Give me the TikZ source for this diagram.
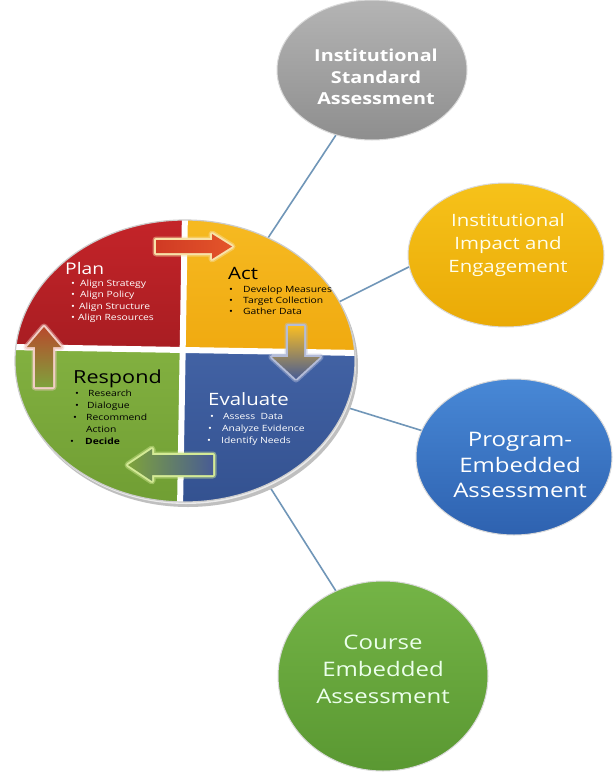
\documentclass[tikz,border=0pt]{standalone}
\usepackage{fontspec}
\setmainfont{Open Sans}
\newfontfamily\wf[FakeStretch=1.2]{Open Sans}
\usetikzlibrary{shapes.geometric,shadings}
\definecolor{qred}{HTML}{C8252A}
\definecolor{qredd}{HTML}{A81D22}
\definecolor{qorg}{HTML}{F7BC24}
\definecolor{qorgd}{HTML}{F0AA10}
\definecolor{qgrn}{HTML}{82B040}
\definecolor{qgrnd}{HTML}{6E9C32}
\definecolor{qblu}{HTML}{4262A4}
\definecolor{qblud}{HTML}{32508E}
\definecolor{conn}{HTML}{7096B8}
\definecolor{sgray}{HTML}{B4B4B4}
\definecolor{sgrayd}{HTML}{8E8E8E}
\definecolor{syel}{HTML}{F6C21A}
\definecolor{syeld}{HTML}{EAAA06}
\definecolor{sblu}{HTML}{4888D6}
\definecolor{sblud}{HTML}{2E62B0}
\definecolor{sgrn}{HTML}{74B446}
\definecolor{sgrnd}{HTML}{5A9832}
\definecolor{arred}{HTML}{D03A24}
\definecolor{arorg}{HTML}{E4562A}
\definecolor{argrn}{HTML}{7EA23C}
\definecolor{arbrn}{HTML}{B84A2C}
\definecolor{arblu}{HTML}{485C94}
\definecolor{glowy}{HTML}{F8E2A8}
\definecolor{glowp}{HTML}{F2CEC6}
\definecolor{glowb}{HTML}{B4BCD8}
\definecolor{glowg}{HTML}{D4EA96}
\tikzset{
  sat/.style={ellipse, inner sep=0pt, draw=white!85!black, line width=1pt},
  conline/.style={draw=conn, line width=1.6pt},
  head/.style={font=\wf\fontsize{17}{20}\selectfont, anchor=base west, inner sep=0pt},
  bl/.style={font=\wf\fontsize{8.6}{10}\selectfont, anchor=base west, inner sep=0pt},
  sattext/.style={align=center, inner sep=0pt, text=white},
  glowout/.style={line width=7pt, line join=round, opacity=0.45},
  glowin/.style={line width=4pt, line join=round},
}
\begin{document}
\begin{tikzpicture}[x=1pt,y=-1pt]
\useasboundingbox (0,0) rectangle (613,776);
\fill[white] (0,0) rectangle (613,776);

\node[ellipse, minimum width=340, minimum height=282, inner sep=0pt] (main) at (185,361) {};
\node[sat, minimum width=190, minimum height=140, shade, top color=sgray, bottom color=sgrayd] (gray) at (372,70) {};
\node[sat, minimum width=196, minimum height=144, shade, top color=syel, bottom color=syeld] (yel) at (506,255) {};
\node[sat, minimum width=196, minimum height=156, shade, top color=sblu, bottom color=sblud] (blu) at (514,457) {};
\node[sat, minimum width=210, minimum height=190, shade, top color=sgrn, bottom color=sgrnd] (grn) at (383,676) {};

\draw[conline] (main.56.6) -- (gray.241.9);
\draw[conline] (main.21.5) -- (yel.187.9);
\draw[conline] (main.344.4) -- (blu.164.3);
\draw[conline] (main.304.1) -- (grn.119.6);

% main disk shadow / rim
\fill[black!25] (188,366) ellipse [x radius=170, y radius=141];
\fill[black!8] (186,363) ellipse [x radius=170, y radius=141];
\begin{scope}
\clip (185,361) ellipse [x radius=170, y radius=141];
\shade[top color=qred, bottom color=qredd] (0,200) rectangle (182,350);
\shade[top color=qorg, bottom color=qorgd] (182,200) rectangle (360,350);
\shade[top color=qgrn, bottom color=qgrnd] (0,350) rectangle (182,520);
\shade[top color=qblu, bottom color=qblud] (182,350) rectangle (360,520);
\draw[white, line width=6pt] (185,210) -- (180,510);
\draw[white, line width=6pt] (10,347) -- (360,353);
\end{scope}
\draw[white!80!black, line width=1.2pt] (185,361) ellipse [x radius=170, y radius=141];

% cycle arrows
% Plan -> Act (right)
\draw[glowout, draw=glowy] (156,240) -- (212,240) -- (212,234) -- (232,246.5) -- (212,259) -- (212,253) -- (156,253) -- cycle;
\draw[glowin, draw=glowy] (156,240) -- (212,240) -- (212,234) -- (232,246.5) -- (212,259) -- (212,253) -- (156,253) -- cycle;
\shade[left color=arred, right color=arorg] (156,240) -- (212,240) -- (212,234) -- (232,246.5) -- (212,259) -- (212,253) -- (156,253) -- cycle;

% Act -> Evaluate (down)
\draw[glowout, draw=glowb] (288,326) -- (304,326) -- (304,357) -- (320,357) -- (296,379) -- (272,357) -- (288,357) -- cycle;
\draw[glowin, draw=glowb] (288,326) -- (304,326) -- (304,357) -- (320,357) -- (296,379) -- (272,357) -- (288,357) -- cycle;
\shade[top color=qorg, bottom color=arblu] (288,326) -- (304,326) -- (304,357) -- (320,357) -- (296,379) -- (272,357) -- (288,357) -- cycle;

% Evaluate -> Respond (left)
\draw[glowout, draw=glowg] (213,455) -- (152,455) -- (152,449) -- (128,465) -- (152,481) -- (152,475) -- (213,475) -- cycle;
\draw[glowin, draw=glowg] (213,455) -- (152,455) -- (152,449) -- (128,465) -- (152,481) -- (152,475) -- (213,475) -- cycle;
\shade[left color=argrn, right color=arblu, middle color=argrn!50!arblu] (213,455) -- (152,455) -- (152,449) -- (128,465) -- (152,481) -- (152,475) -- (213,475) -- cycle;

% Respond -> Plan (up)
\draw[glowout, draw=glowp] (35,387) -- (35,347) -- (27,347) -- (44,327) -- (61,347) -- (53,347) -- (53,387) -- cycle;
\draw[glowin, draw=glowp] (35,387) -- (35,347) -- (27,347) -- (44,327) -- (61,347) -- (53,347) -- (53,387) -- cycle;
\shade[top color=arbrn, bottom color=argrn] (35,387) -- (35,347) -- (27,347) -- (44,327) -- (61,347) -- (53,347) -- (53,387) -- cycle;

% Plan
\node[head, text=white, font=\wf\fontsize{16}{19}\selectfont] (plan) at (65,274) {Plan};
\node[bl, text=white] (pb1) at (71,286) {\textbullet};
\node[bl, text=white] (p1) at (80,286) {Align Strategy};
\node[bl, text=white] (pb2) at (71,297.5) {\textbullet};
\node[bl, text=white] (p2) at (80,297.5) {Align Policy};
\node[bl, text=white] (pb3) at (71,309) {\textbullet};
\node[bl, text=white] (p3) at (79,309) {Align Structure};
\node[bl, text=white] (pb4) at (71,320.5) {\textbullet};
\node[bl, text=white] (p4) at (78,320.5) {Align Resources};

% Act
\node[head, text=black] (act) at (228,279) {Act};
\node[bl, text=black] (ab1) at (229,292) {\textbullet};
\node[bl, text=black] (a1) at (243,292) {Develop Measures};
\node[bl, text=black] (ab2) at (229,303) {\textbullet};
\node[bl, text=black] (a2) at (243,303) {Target Collection};
\node[bl, text=black] (ab3) at (229,314.5) {\textbullet};
\node[bl, text=black] (a3) at (243,314.5) {Gather Data};

% Respond
\node[head, text=black, font=\wf\fontsize{18}{21}\selectfont] (resp) at (73,383) {Respond};
\node[bl, text=black] (rb1) at (75,396) {\textbullet};
\node[bl, text=black] (r1) at (88,396) {Research};
\node[bl, text=black] (rb2) at (75,408) {\textbullet};
\node[bl, text=black] (r2) at (87,408) {Dialogue};
\node[bl, text=black] (rb3) at (73,420) {\textbullet};
\node[bl, text=black] (r3) at (86,420) {Recommend};
\node[bl, text=black] (r3b) at (86,432) {Action};
\node[bl, text=black] (rb4) at (70,444) {\textbullet};
\node[bl, text=black, font=\wf\bfseries\fontsize{8.6}{10}\selectfont] (r4) at (85,444) {Decide};

% Evaluate
\node[head, text=white] (eval) at (208,405) {Evaluate};
\node[bl, text=white] (eb1) at (210,419) {\textbullet};
\node[bl, text=white] (e1) at (223,419) {Assess\ \ Data};
\node[bl, text=white] (eb2) at (208,431) {\textbullet};
\node[bl, text=white] (e2) at (222,431) {Analyze Evidence};
\node[bl, text=white] (eb3) at (207,443) {\textbullet};
\node[bl, text=white] (e3) at (221,443) {Identify Needs};

% satellite texts
\node[sattext, font=\wf\bfseries\fontsize{16.5}{21.5}\selectfont] (tgray) at (376,77) {Institutional\\Standard\\Assessment};
\node[sattext, text=white!92!yellow, font=\wf\fontsize{17}{23}\selectfont] (tyel) at (508,245) {Institutional\\Impact and\\Engagement};
\node[sattext, font=\wf\fontsize{20}{25.5}\selectfont] (tblu) at (520,465) {Program-\\Embedded\\Assessment};
\node[sattext, text=white!92!green, font=\wf\fontsize{20}{27}\selectfont] (tgrn) at (383,669) {Course\\Embedded\\Assessment};
\end{tikzpicture}
\end{document}
